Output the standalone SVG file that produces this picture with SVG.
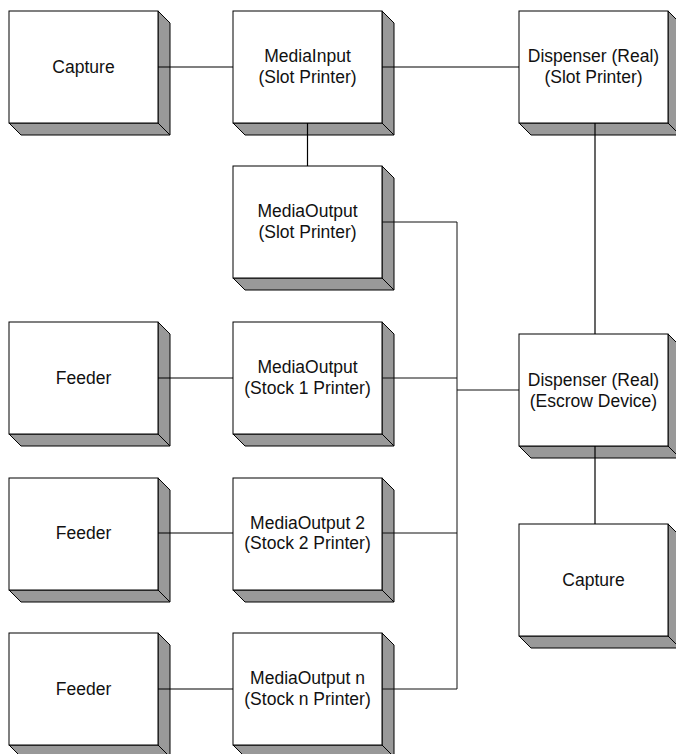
<svg xmlns="http://www.w3.org/2000/svg" xmlns:xlink="http://www.w3.org/1999/xlink" width="676" height="754" viewBox="0 0 676 754">
<style>
.front{fill:#fff;stroke:#000;stroke-width:1}
.side{fill:#999;stroke:#000;stroke-width:1;stroke-linejoin:miter}
.lbl{font-family:"Liberation Sans",Arial,sans-serif;font-size:17.5px;fill:#111;text-anchor:middle}
.c{fill:none;stroke:#000;stroke-width:1.2}
.b{fill:none;stroke:#111;stroke-width:1}
</style>
<defs>
<g id="box">
<polygon class="side" points="149,0 161,12 161,124 149,112"/>
<polygon class="side" points="0,112 149,112 161,124 12,124"/>
<rect class="front" x="0" y="0" width="149" height="112"/>
</g>
</defs>
<rect width="676" height="754" fill="#fff"/>
<g id="capture1"><use xlink:href="#box" x="9" y="11"/><text class="lbl" x="83.5" y="73">Capture</text></g>
<g id="mediainput"><use xlink:href="#box" x="233" y="11"/><text class="lbl" x="307.5" y="62">MediaInput</text><text class="lbl" x="307.5" y="82.5">(Slot Printer)</text></g>
<g id="dispenser-slot"><use xlink:href="#box" x="519" y="11"/><text class="lbl" x="593.5" y="62">Dispenser (Real)</text><text class="lbl" x="593.5" y="82.5">(Slot Printer)</text></g>
<g id="mediaoutput-slot"><use xlink:href="#box" x="233" y="166"/><text class="lbl" x="307.5" y="217">MediaOutput</text><text class="lbl" x="307.5" y="237.5">(Slot Printer)</text></g>
<g id="feeder1"><use xlink:href="#box" x="9" y="322"/><text class="lbl" x="83.5" y="384">Feeder</text></g>
<g id="mediaoutput-stock1"><use xlink:href="#box" x="233" y="322"/><text class="lbl" x="307.5" y="373">MediaOutput</text><text class="lbl" x="307.5" y="393.5">(Stock 1 Printer)</text></g>
<g id="dispenser-escrow"><use xlink:href="#box" x="519" y="334"/><text class="lbl" x="593.5" y="386">Dispenser (Real)</text><text class="lbl" x="593.5" y="406.5">(Escrow Device)</text></g>
<g id="feeder2"><use xlink:href="#box" x="9" y="478"/><text class="lbl" x="83.5" y="539">Feeder</text></g>
<g id="mediaoutput-stock2"><use xlink:href="#box" x="233" y="478"/><text class="lbl" x="307.5" y="528.5">MediaOutput 2</text><text class="lbl" x="307.5" y="549">(Stock 2 Printer)</text></g>
<g id="capture2"><use xlink:href="#box" x="519" y="524"/><text class="lbl" x="593.5" y="586">Capture</text></g>
<g id="feeder3"><use xlink:href="#box" x="9" y="633"/><text class="lbl" x="83.5" y="695">Feeder</text></g>
<g id="mediaoutput-stockn"><use xlink:href="#box" x="233" y="633"/><text class="lbl" x="307.5" y="684">MediaOutput n</text><text class="lbl" x="307.5" y="704.5">(Stock n Printer)</text></g>
<g id="connectors">
<path class="c" d="M158,67H233"/>
<path class="c" d="M382,67H519"/>
<path class="c" d="M307.5,123V166"/>
<path class="c" d="M595,123V334"/>
<path class="c" d="M595,446V524"/>
<path class="c" d="M158,378H233"/>
<path class="c" d="M158,533H233"/>
<path class="c" d="M158,689H233"/>
<path class="b" d="M382,222H457V689H382"/>
<path class="b" d="M382,378H457"/>
<path class="b" d="M382,533H457"/>
<path class="b" d="M457,390H519"/>
</g>
</svg>
